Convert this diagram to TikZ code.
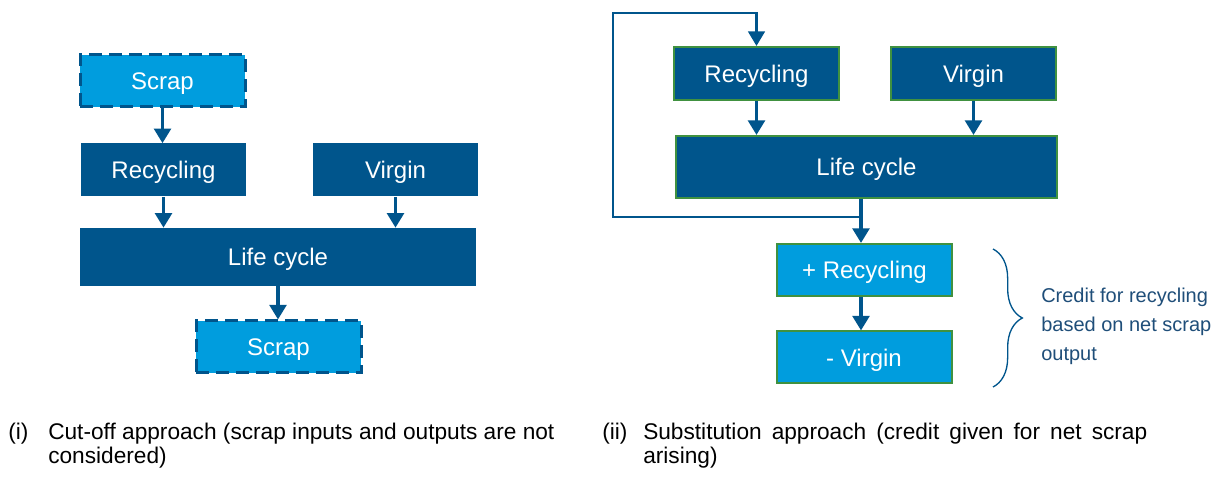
\documentclass[tikz,border=0pt]{standalone}
\usepackage{fontspec}
\setmainfont{Liberation Sans}
\usetikzlibrary{arrows.meta, decorations.pathreplacing}
\definecolor{darkblue}{RGB}{0,85,140}
\definecolor{lightblue}{RGB}{0,157,222}
\definecolor{boxgreen}{RGB}{64,145,64}
\definecolor{notetext}{RGB}{31,78,121}

\begin{document}
\begin{tikzpicture}[x=0.75pt, y=-0.75pt,
    darkbox/.style={fill=darkblue, text=white, inner sep=0pt, minimum width=123.75pt, minimum height=39.75pt, text height=13pt, text depth=0pt, font=\fontsize{18}{22}\selectfont},
    scrapbox/.style={darkbox, fill=lightblue, draw=darkblue, line width=2.25pt, dash pattern=on 10pt off 5pt, minimum height=39pt},
    greenbox/.style={darkbox, draw=boxgreen, line width=1.5pt},
    creditbox/.style={greenbox, fill=lightblue, minimum width=131.25pt, minimum height=39pt},
    flow/.style={draw=darkblue, line width=2.7pt, -{Triangle[width=12.5pt, length=11pt]}},
    loopline/.style={flow, line width=2pt},
    caption/.style={anchor=north west, inner sep=0pt, align=left, font=\fontsize{17}{17.5}\selectfont}]

    \useasboundingbox (0,0) rectangle (1222,477);

    % (i) cut-off
    \node[scrapbox] (scrapin) at (162.5,81) {Scrap};
    \node[darkbox] (recyc) at (163.5,170) {Recycling};
    \node[darkbox] (virgin) at (395.5,170) {Virgin};
    \node[darkbox, minimum width=297pt, minimum height=43.5pt] (life) at (278,257) {Life cycle};
    \node[scrapbox] (scrapout) at (278.5,347) {Scrap};

    \draw [flow] (scrapin.south) -- (scrapin.south |- recyc.north);
    \draw [flow] (recyc.south) -- (recyc.south |- life.north);
    \draw [flow] (virgin.south) -- (virgin.south |- life.north);
    \draw [flow] (life.south) -- (life.south |- scrapout.north);

    % (ii) substitution
    \node[greenbox] (rrecyc) at (756.5,73.5) {Recycling};
    \node[greenbox] (rvirgin) at (973.5,73.5) {Virgin};
    \node[greenbox, minimum width=285.75pt, minimum height=46.5pt] (rlife) at (866.5,167) {Life cycle};
    \node[creditbox] (plusrec) at (864.5,270) {+ Recycling};
    \node[creditbox] (minvirg) at (864,357.5) {- Virgin};

    \coordinate (branch) at (861,217);
    \coordinate (corner) at (613,13);

    \draw [flow] (rrecyc.south) -- (rrecyc.south |- rlife.north);
    \draw [flow] (rvirgin.south) -- (rvirgin.south |- rlife.north);
    \draw [flow] (branch |- rlife.south) -- (branch |- plusrec.north);
    \draw [loopline] (branch) -| (corner) -| (rrecyc.north);
    \draw [flow] (branch |- plusrec.south) -- (branch |- minvirg.north);

    \coordinate (bracetop) at (993,249);
    \coordinate (bracebot) at (993,387);
    \draw [darkblue, line width=1pt, decorate, decoration={brace, amplitude=22pt}] (bracetop) -- (bracebot);
    \node[anchor=west, align=left, text=notetext, inner sep=0pt, font=\fontsize{15}{21.75}\selectfont] (note) at (1041,326) {Credit for recycling\\based on net scrap\\output};

    % captions
    \node[caption] (capi) at (8,423) {(i)};
    \node[caption] (texti) at (48,423) {Cut-off approach (scrap inputs and outputs are not\\considered)};
    \node[caption] (capii) at (602,423) {(ii)};
    \node[caption] (textii) at (643,423) {\makebox[378pt][s]{Substitution approach (credit given for net scrap}\\arising)};
\end{tikzpicture}
\end{document}
